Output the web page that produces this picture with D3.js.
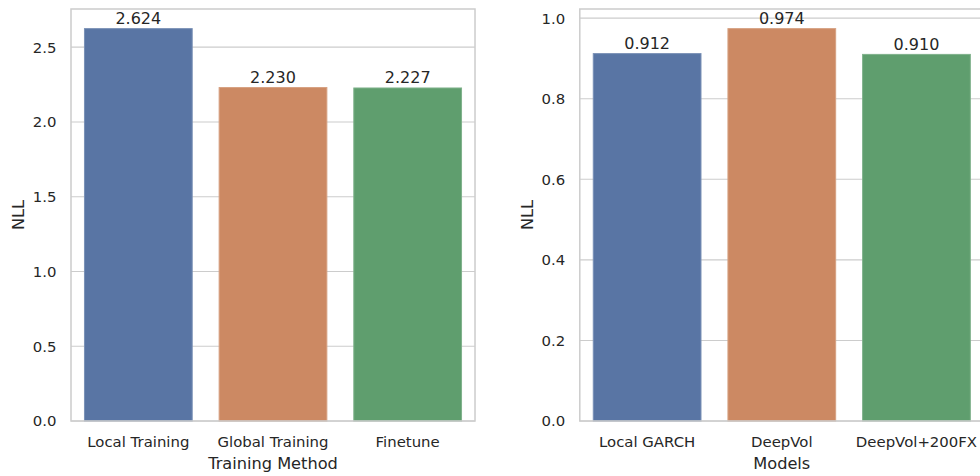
<!DOCTYPE html>
<html><head><meta charset="utf-8">
<script src="https://cdn.jsdelivr.net/npm/d3@7"></script>
<style>body{margin:0;background:#fff}svg{display:block}text{font-family:"DejaVu Sans",sans-serif;fill:#262626}</style>
</head><body><svg id="c" width="980" height="476"></svg>
<script>
const leftCategories = ["Local Training", "Global Training", "Finetune"];
const leftValues = [2.624, 2.230, 2.227];
const leftTicks = [0, 0.5, 1.0, 1.5, 2.0, 2.5];
const rightCategories = ["Local GARCH", "DeepVol", "DeepVol+200FX"];
const rightValues = [0.912, 0.974, 0.910];
const rightTicks = [0, 0.2, 0.4, 0.6, 0.8, 1.0];
const colors = ["#5975a4", "#cc8963", "#5f9e6e"];

const svg = d3.select("#c");
function panel(x0, x1, cats, vals, ticks, xlabel, ylabelX) {
  const top = 9, bottom = 421;
  const x = d3.scaleBand().domain(cats).range([x0, x1]).paddingInner(0.2).paddingOuter(0.1);
  const y = d3.scaleLinear().domain([0, d3.max(vals) * 1.05]).range([bottom, top]);
  const g = svg.append("g");
  // grid
  g.selectAll(".grid").data(ticks).enter().append("line")
    .attr("x1", x0).attr("x2", x1).attr("y1", d => y(d)).attr("y2", d => y(d))
    .attr("stroke", "#cccccc").attr("stroke-width", 1.1);
  // bars
  g.selectAll(".bar").data(vals).enter().append("rect")
    .attr("x", (d, i) => x(cats[i])).attr("width", x.bandwidth())
    .attr("y", d => y(d)).attr("height", d => bottom - y(d))
    .attr("fill", (d, i) => colors[i])
    .attr("stroke", (d, i) => d3.interpolateRgb(colors[i], "#ffffff")(0.2))
    .attr("stroke-width", 1);
  // frame
  g.append("rect").attr("x", x0).attr("y", top).attr("width", x1 - x0).attr("height", bottom - top)
    .attr("fill", "none").attr("stroke", "#cccccc").attr("stroke-width", 1.5);
  // value labels
  g.selectAll(".val").data(vals).enter().append("text")
    .attr("x", (d, i) => x(cats[i]) + x.bandwidth() / 2).attr("y", d => y(d) - 4.5)
    .attr("text-anchor", "middle").attr("font-size", "16px").text(d => d.toFixed(3));
  // y ticks
  g.selectAll(".yt").data(ticks).enter().append("text")
    .attr("x", x0 - 14.5).attr("y", d => y(d)).attr("dy", "0.36em")
    .attr("text-anchor", "end").attr("font-size", "14.9px").text(d => d.toFixed(1));
  // x ticks
  g.selectAll(".xt").data(cats).enter().append("text")
    .attr("x", d => x(d) + x.bandwidth() / 2).attr("y", 446.5)
    .attr("text-anchor", "middle").attr("font-size", "14.9px").text(d => d);
  // axis labels
  g.append("text").attr("x", (x0 + x1) / 2).attr("y", 468.5).attr("text-anchor", "middle")
    .attr("font-size", "16.2px").text(xlabel);
  g.append("text").attr("transform", `translate(${ylabelX},${(top + bottom) / 2}) rotate(-90)`)
    .attr("text-anchor", "middle").attr("font-size", "16.2px").text("NLL");
}
panel(71, 475, leftCategories, leftValues, leftTicks, "Training Method", 24);
panel(579.8, 983.8, rightCategories, rightValues, rightTicks, "Models", 532.5);
</script></body></html>
